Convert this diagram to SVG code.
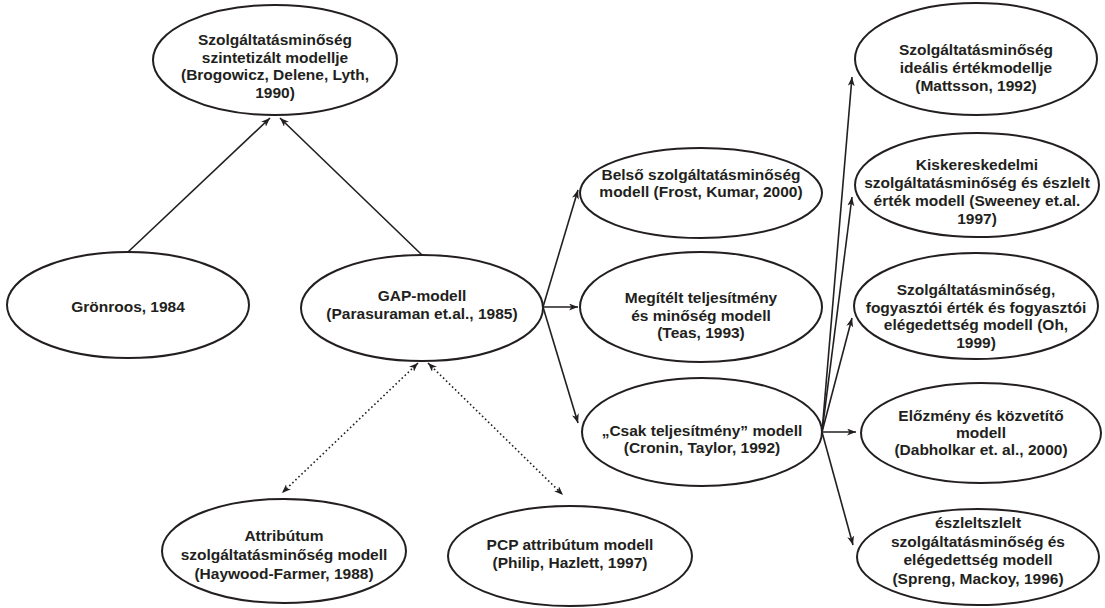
<svg xmlns="http://www.w3.org/2000/svg" width="1105" height="608" viewBox="0 0 1105 608">
<style>
.n ellipse{fill:#fff;stroke:#231f20;stroke-width:2}
.n text{font-family:"Liberation Sans",Arial,sans-serif;font-weight:bold;font-size:15.5px;fill:#231f20;text-anchor:middle}
.c line{stroke:#231f20;stroke-width:1.6;fill:none}
.c .s{marker-end:url(#ah)}
.c .d{stroke-dasharray:1.6 2.6;stroke-width:1.6;marker-end:url(#ah);marker-start:url(#ah)}
</style>
<defs>
<marker id="ah" markerUnits="userSpaceOnUse" markerWidth="10" markerHeight="8" refX="9" refY="3.5" orient="auto-start-reverse">
<path d="M0,0 L9,3.5 L0,7 L2.5,3.5 z" fill="#231f20"/>
</marker>
</defs>
<rect width="1105" height="608" fill="#fff"/>
<g class="c" id="connectors">
<line class="s" x1="128" y1="252" x2="270" y2="118"/>
<line class="s" x1="422" y1="255" x2="280" y2="118"/>
<line class="s" x1="543" y1="307" x2="578" y2="190"/>
<line class="s" x1="543" y1="307" x2="578" y2="307"/>
<line class="s" x1="543" y1="307" x2="578" y2="423"/>
<line class="s" x1="822" y1="432" x2="852" y2="77"/>
<line class="s" x1="822" y1="432" x2="852" y2="197"/>
<line class="s" x1="822" y1="432" x2="852" y2="318"/>
<line class="s" x1="822" y1="432" x2="856" y2="432"/>
<line class="s" x1="822" y1="432" x2="853" y2="545"/>
<line class="d" x1="418" y1="363" x2="282" y2="493"/>
<line class="d" x1="428" y1="363" x2="563" y2="495"/>
</g>
<g class="n" id="n-brogowicz">
<ellipse cx="275" cy="60" rx="122" ry="55"/>
<text x="275" y="45">Szolgáltatásminőség</text>
<text x="275" y="62.5">szintetizált modellje</text>
<text x="275" y="80">(Brogowicz, Delene, Lyth,</text>
<text x="275" y="97.5">1990)</text>
</g>
<g class="n" id="n-gronroos">
<ellipse cx="128" cy="305" rx="121" ry="53"/>
<text x="128" y="312">Grönroos, 1984</text>
</g>
<g class="n" id="n-gap">
<ellipse cx="422" cy="308" rx="121" ry="53"/>
<text x="422" y="301">GAP-modell</text>
<text x="422" y="319">(Parasuraman et.al., 1985)</text>
</g>
<g class="n" id="n-belso">
<ellipse cx="701" cy="193" rx="121" ry="45"/>
<text x="701" y="180">Belső szolgáltatásminőség</text>
<text x="701" y="197">modell (Frost, Kumar, 2000)</text>
</g>
<g class="n" id="n-megitelt">
<ellipse cx="701" cy="307" rx="121" ry="55"/>
<text x="701" y="303">Megítélt teljesítmény</text>
<text x="701" y="320.5">és minőség modell</text>
<text x="701" y="338">(Teas, 1993)</text>
</g>
<g class="n" id="n-csak">
<ellipse cx="702" cy="432" rx="120" ry="54"/>
<text x="702" y="436">„Csak teljesítmény” modell</text>
<text x="702" y="453">(Cronin, Taylor, 1992)</text>
</g>
<g class="n" id="n-attributum">
<ellipse cx="284" cy="551" rx="122" ry="52"/>
<text x="284" y="541">Attribútum</text>
<text x="284" y="560">szolgáltatásminőség modell</text>
<text x="284" y="579">(Haywood-Farmer, 1988)</text>
</g>
<g class="n" id="n-pcp">
<ellipse cx="570" cy="556" rx="122" ry="50"/>
<text x="570" y="550">PCP attribútum modell</text>
<text x="570" y="568">(Philip, Hazlett, 1997)</text>
</g>
<g class="n" id="n-mattsson">
<ellipse cx="976" cy="59" rx="121" ry="56"/>
<text x="976" y="55">Szolgáltatásminőség</text>
<text x="976" y="73">ideális értékmodellje</text>
<text x="976" y="91">(Mattsson, 1992)</text>
</g>
<g class="n" id="n-sweeney">
<ellipse cx="977" cy="185" rx="122" ry="52"/>
<text x="977" y="170">Kiskereskedelmi</text>
<text x="977" y="188">szolgáltatásminőség és észlelt</text>
<text x="977" y="206">érték modell (Sweeney et.al.</text>
<text x="977" y="224">1997)</text>
</g>
<g class="n" id="n-oh">
<ellipse cx="976" cy="306" rx="122" ry="53"/>
<text x="976" y="295">Szolgáltatásminőség,</text>
<text x="976" y="312.5">fogyasztói érték és fogyasztói</text>
<text x="976" y="330">elégedettség modell (Oh,</text>
<text x="976" y="347.5">1999)</text>
</g>
<g class="n" id="n-dabholkar">
<ellipse cx="981" cy="433" rx="120" ry="50"/>
<text x="981" y="421">Előzmény és közvetítő</text>
<text x="981" y="438">modell</text>
<text x="981" y="455">(Dabholkar et. al., 2000)</text>
</g>
<g class="n" id="n-spreng">
<ellipse cx="978" cy="557" rx="121" ry="48"/>
<text x="978" y="528">észleltszlelt</text>
<text x="978" y="546.5">szolgáltatásminőség és</text>
<text x="978" y="565">elégedettség modell</text>
<text x="978" y="583.5">(Spreng, Mackoy, 1996)</text>
</g>
</svg>
